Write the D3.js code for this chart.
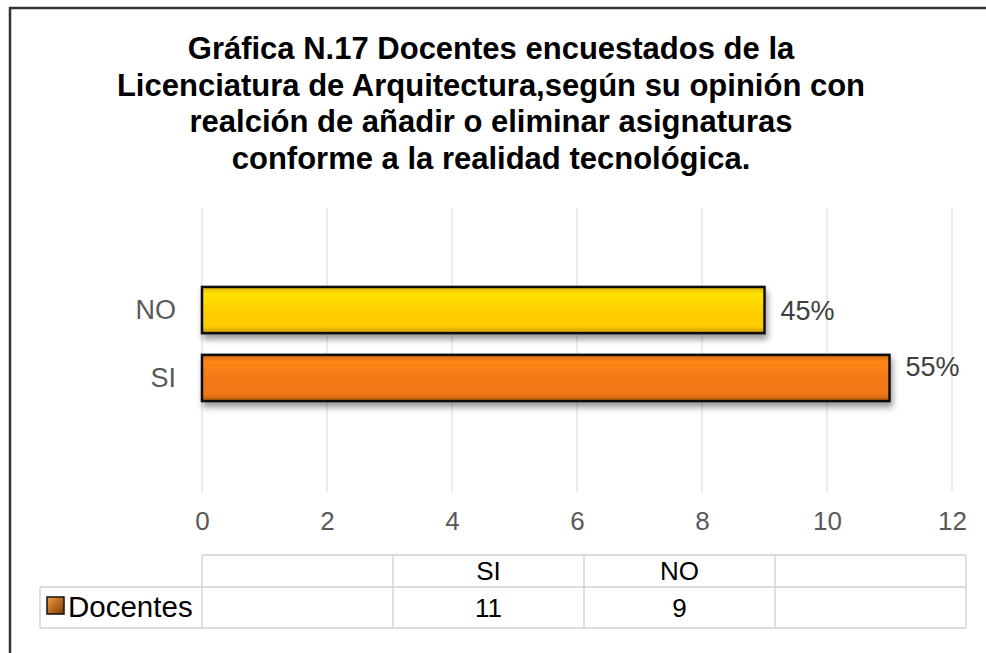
<!DOCTYPE html>
<html lang="es">
<head>
<meta charset="utf-8" />
<script src="https://d3js.org/d3.v7.min.js"></script>
<style>
  body { margin: 0; background: #fff; }
  svg { font-family: "Liberation Sans", Arial, sans-serif; }
</style>
</head>
<body>
<svg id="chart" width="986" height="653"></svg>
<script>
// --- data ---
var titleLines = [
    "Gráfica N.17 Docentes encuestados de la",
    "Licenciatura de Arquitectura,según su opinión con",
    "realción de añadir o eliminar asignaturas",
    "conforme a la realidad tecnológica."
];
var categories = ["NO", "SI"];
var values = [9, 11];
var percentLabels = ["45%", "55%"];
var barColors = ["#ffcc00", "#f07814"];
var tableCats = ["SI", "NO"];
var tableValues = [11, 9];
var seriesName = "Docentes";
var xTicks = [0, 2, 4, 6, 8, 10, 12];

var svg = d3.select("#chart");

// gradients + shadow
var defs = svg.append("defs");
barColors.forEach(function (c, i) {
    var g = defs.append("linearGradient").attr("id", "grad" + i)
        .attr("x1", 0).attr("y1", 0).attr("x2", 0).attr("y2", 1);
    g.append("stop").attr("offset", "0%").attr("stop-color", d3.color(c).darker(0.4));
    g.append("stop").attr("offset", "15%").attr("stop-color", d3.color(c).brighter(0.3));
    g.append("stop").attr("offset", "55%").attr("stop-color", c);
    g.append("stop").attr("offset", "85%").attr("stop-color", c);
    g.append("stop").attr("offset", "100%").attr("stop-color", d3.color(c).darker(0.8));
});
var lg = defs.append("linearGradient").attr("id", "legGrad")
    .attr("x1", 0).attr("y1", 0).attr("x2", 1).attr("y2", 1);
lg.append("stop").attr("offset", "0%").attr("stop-color", "#f6a040");
lg.append("stop").attr("offset", "100%").attr("stop-color", "#7a3a05");

var f = defs.append("filter").attr("id", "shadow")
    .attr("x", "-5%").attr("y", "-20%").attr("width", "110%").attr("height", "170%");
f.append("feDropShadow").attr("dx", 2).attr("dy", 5).attr("stdDeviation", 3)
    .attr("flood-color", "#000").attr("flood-opacity", 0.4);

// outer frame
svg.append("rect").attr("x", 10).attr("y", 8).attr("width", 1000).attr("height", 700)
    .attr("fill", "#fff").attr("stroke", "#333").attr("stroke-width", 2.5);

// title
svg.append("g").selectAll("text").data(titleLines).enter().append("text")
    .attr("x", 491).attr("y", function (d, i) { return 59 + i * 36.5; })
    .attr("text-anchor", "middle")
    .attr("font-size", 31).attr("font-weight", "bold").attr("fill", "#000")
    .text(function (d) { return d; });

// scales
var x = d3.scaleLinear().domain([0, 12]).range([202, 952]);
var y = d3.scaleBand().domain(categories).range([253, 435]).paddingInner(0.32).paddingOuter(0.5);

// gridlines
svg.append("g").selectAll("line").data(xTicks).enter().append("line")
    .attr("x1", function (d) { return x(d); }).attr("x2", function (d) { return x(d); })
    .attr("y1", 208).attr("y2", 492)
    .attr("stroke", "#d9d9d9").attr("stroke-width", 1);

// x axis labels
var xAxis = d3.axisBottom(x).tickValues(xTicks).tickSize(0).tickPadding(0);
var gx = svg.append("g").attr("transform", "translate(0,530)").call(xAxis);
gx.select(".domain").remove();
gx.selectAll("text").attr("font-size", 26).attr("fill", "#595959")
    .attr("font-family", "Liberation Sans, Arial, sans-serif").attr("dy", "0");

// category labels
var yAxis = d3.axisLeft(y).tickSize(0).tickPadding(26);
var gy = svg.append("g").attr("transform", "translate(202,0)").call(yAxis);
gy.select(".domain").remove();
gy.selectAll("text").attr("font-size", 27).attr("fill", "#595959")
    .attr("font-family", "Liberation Sans, Arial, sans-serif");

// bars
svg.append("g").selectAll("rect").data(categories).enter().append("rect")
    .attr("x", x(0))
    .attr("y", function (d) { return y(d); })
    .attr("width", function (d, i) { return x(values[i]) - x(0); })
    .attr("height", y.bandwidth())
    .attr("fill", function (d, i) { return "url(#grad" + i + ")"; })
    .attr("stroke", "#111").attr("stroke-width", 2.5)
    .attr("filter", "url(#shadow)");

// value labels
svg.append("g").selectAll("text").data(categories).enter().append("text")
    .attr("x", function (d, i) { return x(values[i]) + 16; })
    .attr("y", function (d, i) { return y(d) + (i === 0 ? y.bandwidth() / 2 + 10 : 21); })
    .attr("font-size", 27).attr("fill", "#404040")
    .text(function (d, i) { return percentLabels[i]; });

// data table
var colX = [202, 393, 584, 775, 966];
var rowY = [555, 587, 628];
var tbl = svg.append("g").attr("stroke", "#d0d0d0").attr("stroke-width", 1.3).attr("fill", "none");
tbl.append("line").attr("x1", colX[0]).attr("x2", colX[4]).attr("y1", rowY[0]).attr("y2", rowY[0]);
tbl.append("line").attr("x1", 40).attr("x2", colX[4]).attr("y1", rowY[1]).attr("y2", rowY[1]);
tbl.append("line").attr("x1", 40).attr("x2", colX[4]).attr("y1", rowY[2]).attr("y2", rowY[2]);
tbl.append("line").attr("x1", 40).attr("x2", 40).attr("y1", rowY[1]).attr("y2", rowY[2]);
colX.forEach(function (cx) {
    tbl.append("line").attr("x1", cx).attr("x2", cx).attr("y1", rowY[0]).attr("y2", rowY[2]);
});

var cellText = svg.append("g").attr("font-size", 26).attr("fill", "#000").attr("text-anchor", "middle");
tableCats.forEach(function (c, i) {
    var cx = (colX[i + 1] + colX[i + 2]) / 2;
    cellText.append("text").attr("x", cx).attr("y", 580).text(c);
    cellText.append("text").attr("x", cx).attr("y", 617).text(tableValues[i]);
});

// legend key + series name
svg.append("rect").attr("x", 47).attr("y", 597).attr("width", 17).attr("height", 17)
    .attr("fill", "url(#legGrad)").attr("stroke", "#111").attr("stroke-width", 1.5);
svg.append("text").attr("x", 68).attr("y", 617).attr("font-size", 29.5).attr("fill", "#000")
    .text(seriesName);
</script>
</body>
</html>
